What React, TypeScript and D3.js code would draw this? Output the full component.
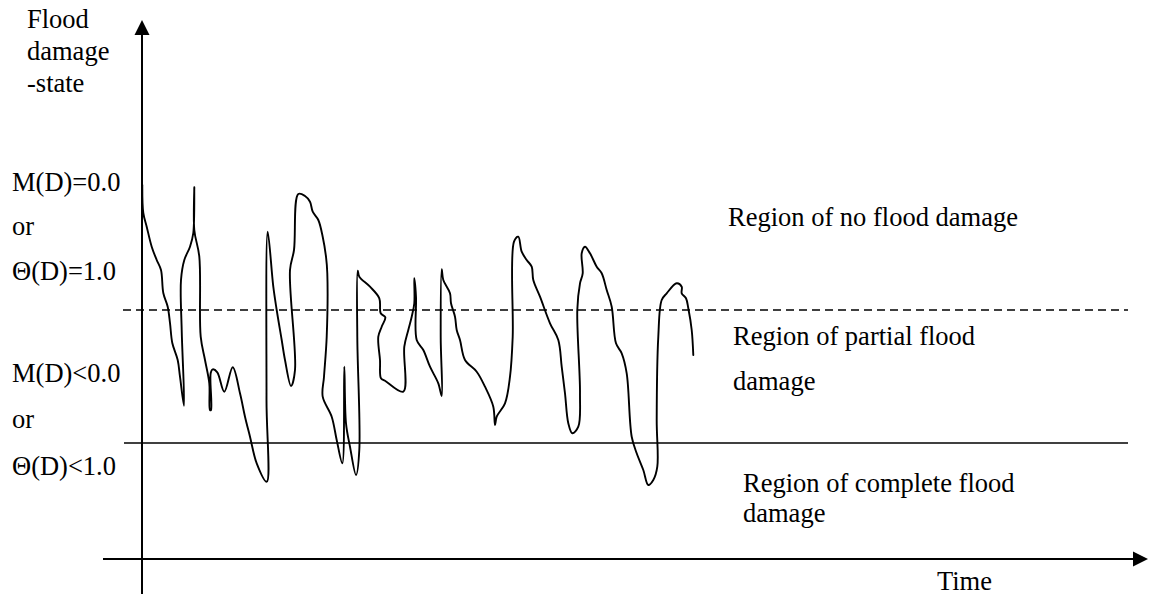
import React from "react";
import * as d3 from "d3";

// Time (schematic units) and flood damage-state level (0 = complete-damage threshold, 133 = no-damage threshold)
const timeValues: number[] = [
  0.3, 1.3, 4.7, 9.7, 14.7, 19, 21.3, 25.7, 28, 30.3, 35.7, 38, 42, 39.7, 39, 42.3, 48, 51.3, 52.3, 52.3,
  57.3, 58.7, 63, 67.3, 68, 69, 68.7, 70.7, 75.3, 82.3, 90.7, 98, 103, 108, 114.7, 124.7, 124.5, 125.7, 131.3, 134.7,
  139.7, 143, 149, 153, 148, 152, 156.3, 163, 168, 170.7, 176.3, 180.7, 184, 185.3, 184.7, 182, 180.7, 189.7, 194.7, 200.3,
  202.3, 204, 208, 214, 217.3, 215.3, 215.7, 217.3, 228, 237.3, 238.7, 243.3, 239.7, 236.3, 238, 239, 243, 261.3, 262.3, 266.3,
  269.7, 272.3, 272.3, 274, 274.7, 281.3, 288, 296.3, 299.7, 298.7, 299.7, 301.3, 308, 309, 313, 314.7, 318, 323, 334.7, 343,
  351.3, 353, 354.7, 363, 368, 370.7, 372, 376.3, 379.7, 384.7, 389.7, 391.3, 398, 408, 416.3, 419.7, 423, 426.3, 430.3, 436.3,
  438, 435.3, 438, 440.7, 439.7, 443, 448, 454.7, 459.7, 464.7, 469.7, 474, 479.7, 484.7, 489.7, 494.7, 501.3, 506.3, 511.3, 515.3,
  514.7, 516.3, 519.7, 524.7, 534.7, 539.7, 539.7, 544, 546.3, 549.7, 551.3,
];
const stateValues: number[] = [
  258, 230, 216.3, 196.3, 183, 173, 150, 136.3, 120, 100, 83, 66.3, 37.3, 113, 163, 183, 196.3, 210, 255.7, 213,
  186.3, 106.3, 83, 59.7, 33, 33, 70, 73.7, 70.7, 51.3, 75.7, 49.7, 26.3, 6.3, -20.3, -38.7, 43, 211.3, 156.3, 133,
  103, 83, 57, 73, 173, 193, 249, 247, 241.3, 231.3, 223, 206.3, 186.3, 169.7, 106.3, 66.3, 46.3, 26.3, 3, -20.3,
  76.3, 19.7, -3.7, -32, -7, 106.3, 172.3, 166.3, 156.3, 144.7, 129.7, 125.7, 116.3, 106.3, 83, 64.7, 62.3, 51.3, 96.3, 113,
  126.3, 139.7, 164.7, 146.3, 103, 93, 76.3, 59.7, 47, 106.3, 173.7, 163, 149.7, 139.7, 126.3, 113, 103, 83, 71.3, 56.3,
  36.3, 18, 26.3, 39.7, 66.3, 106.3, 201.3, 206.3, 191.3, 183, 176.3, 163, 146.3, 119.7, 103, 76.3, 49.7, 19.7, 9.7, 16.3,
  49.7, 133, 159.7, 169.7, 189.7, 196.3, 189.7, 176.3, 169.7, 153, 136.3, 99.7, 89.7, 69.7, 6.3, -10.3, -27, -42, -37, -23.7,
  23, 106.3, 143, 149.7, 159.7, 156.3, 149.7, 144.7, 134.7, 113, 88,
];

const noDamageLevel = 133; // dashed line: M(D)=0.0 / Θ(D)=1.0
const completeLevel = 0; // solid line

const leftLabelsTop = ["M(D)=0.0", "or", "Θ(D)=1.0"];
const leftLabelsBottom = ["M(D)<0.0", "or", "Θ(D)<1.0"];
const yTitle = ["Flood", "damage", "-state"];
const regionNo = ["Region of no flood damage"];
const regionPartial = ["Region of partial flood", "damage"];
const regionComplete = ["Region of complete flood", "damage"];
const xTitle = "Time";

const W = 1149;
const H = 597;

export default function App() {
  const x = d3.scaleLinear().domain([0, 1000]).range([142, 1142]);
  const y = d3.scaleLinear().domain([0, 133]).range([443, 310]);

  const pts: [number, number][] = timeValues.map((t, i) => [t, stateValues[i]]);
  const line = d3
    .line<[number, number]>()
    .x((d) => x(d[0]))
    .y((d) => y(d[1]))
    .curve(d3.curveCatmullRom.alpha(0.5));
  const pathD = line(pts) || "";

  const font = "Times New Roman, Liberation Serif, Tinos, DejaVu Serif, serif";
  const fs = 26.5;

  const axisX0 = x(0);
  const xAxisY = y(-116);
  const xAxisStart = x(-39);
  const xAxisEnd = x(1006);
  const yAxisTop = y(423);
  const yAxisBottom = y(-151);

  const textProps = { fontFamily: font, fontSize: fs, fill: "#000" };

  return (
    <svg
      width={W}
      height={H}
      style={{ position: "absolute", left: 0, top: 0, background: "#fff" }}
    >
      <rect width={W} height={H} fill="#fff" />
      {/* threshold lines */}
      <line
        x1={x(-19)}
        x2={x(986)}
        y1={y(noDamageLevel)}
        y2={y(noDamageLevel)}
        stroke="#000"
        strokeWidth={1.6}
        strokeDasharray="8,5"
      />
      <line
        x1={x(-18)}
        x2={x(986)}
        y1={y(completeLevel)}
        y2={y(completeLevel)}
        stroke="#000"
        strokeWidth={1.6}
      />
      {/* y axis */}
      <line x1={axisX0} x2={axisX0} y1={yAxisBottom} y2={yAxisTop + 12} stroke="#000" strokeWidth={2} />
      <path
        d={`M${axisX0},${yAxisTop} L${axisX0 - 7.5},${yAxisTop + 15} L${axisX0 + 7.5},${yAxisTop + 15} Z`}
        fill="#000"
      />
      {/* x axis */}
      <line x1={xAxisStart} x2={xAxisEnd - 12} y1={xAxisY} y2={xAxisY} stroke="#000" strokeWidth={2} />
      <path
        d={`M${xAxisEnd},${xAxisY} L${xAxisEnd - 15},${xAxisY - 7.5} L${xAxisEnd - 15},${xAxisY + 7.5} Z`}
        fill="#000"
      />
      {/* curve */}
      <path d={pathD} fill="none" stroke="#000" strokeWidth={1.9} strokeLinejoin="round" strokeLinecap="round" />

      {/* labels */}
      {yTitle.map((t, i) => (
        <text key={"yt" + i} x={27} y={28 + i * 32} {...textProps}>
          {t}
        </text>
      ))}
      {leftLabelsTop.map((t, i) => (
        <text key={"lt" + i} x={12} y={190.5 + i * 44.7} {...textProps}>
          {t}
        </text>
      ))}
      {leftLabelsBottom.map((t, i) => (
        <text key={"lb" + i} x={12} y={381.5 + i * 46.7} {...textProps}>
          {t}
        </text>
      ))}
      {regionNo.map((t, i) => (
        <text key={"rn" + i} x={728} y={226} {...textProps}>
          {t}
        </text>
      ))}
      {regionPartial.map((t, i) => (
        <text key={"rp" + i} x={733} y={345 + i * 45} {...textProps}>
          {t}
        </text>
      ))}
      {regionComplete.map((t, i) => (
        <text key={"rc" + i} x={743} y={491.5 + i * 30} {...textProps}>
          {t}
        </text>
      ))}
      <text x={937} y={590} {...textProps}>
        {xTitle}
      </text>
    </svg>
  );
}
